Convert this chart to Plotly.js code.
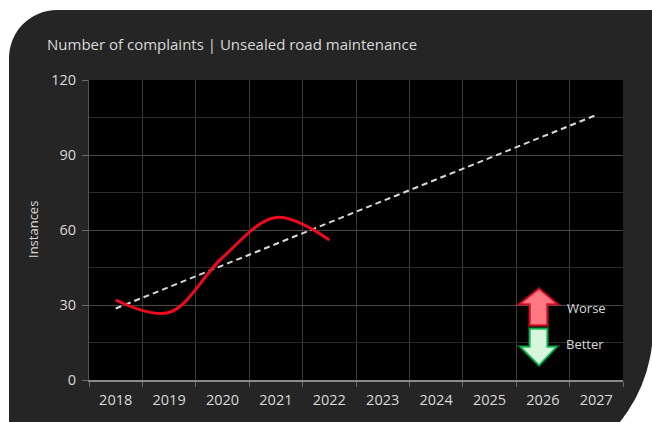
<!DOCTYPE html>
<html>
<head>
<meta charset="utf-8">
<script src="https://cdn.plot.ly/plotly-3.0.1.min.js"></script>
<style>
  html, body { margin: 0; padding: 0; background: #ffffff; overflow: hidden; }
  #wrap { position: relative; width: 652px; height: 422px; overflow: hidden; }
  #card {
    position: absolute; left: 9px; top: 10px; width: 644px; height: 468px;
    background: #252525;
    border-radius: 48px 0 150px 0;
  }
  #chart { position: absolute; left: 0; top: 0; width: 652px; height: 422px; }
</style>
</head>
<body>
<div id="wrap">
  <div id="card"></div>
  <div id="chart"></div>
</div>
<script>
// Recorded complaints per year
const years = [2018, 2019, 2020, 2021, 2022];
const complaints = [32, 27, 49, 65, 56];

// Years shown on the axis (trend is projected across all of them)
const axisYears = [2018, 2019, 2020, 2021, 2022, 2023, 2024, 2025, 2026, 2027];
const axisLabels = axisYears.map(String);

const titleText = 'Number of complaints | Unsealed road maintenance';
const yTitle = 'Instances';
const worseText = 'Worse';
const betterText = 'Better';

// Least-squares linear trend fitted to the recorded values
const n = years.length;
const mx = years.reduce((a, b) => a + b, 0) / n;
const my = complaints.reduce((a, b) => a + b, 0) / n;
let sxy = 0, sxx = 0;
for (let i = 0; i < n; i++) {
  sxy += (years[i] - mx) * (complaints[i] - my);
  sxx += (years[i] - mx) * (years[i] - mx);
}
const slope = sxy / sxx;
const trendX = [axisYears[0], axisYears[axisYears.length - 1]];
const trendY = trendX.map(x => my + slope * (x - mx));

// Plot area geometry (pixels) used to place the indicator arrows
const W = 652, H = 422;
const M = { l: 89, r: 29, t: 80, b: 42 };
const pw = W - M.l - M.r, ph = H - M.t - M.b;
const fx = px => (px - M.l) / pw;
const fy = py => (H - M.b - py) / ph;
const poly = pts => pts.map((p, i) => (i ? 'L' : 'M') + fx(p[0]).toFixed(4) + ',' + fy(p[1]).toFixed(4)).join(' ') + ' Z';

const upArrow = [[539, 289], [557, 304], [547, 304], [547, 325], [530, 325], [530, 304], [520, 304]];
const downArrow = [[530, 329], [547, 329], [547, 347], [556, 347], [539, 365], [521, 347], [530, 347]];

const font = '"Open Sans", Lato, sans-serif';
const textColor = '#d9d9d9';

const traces = [
  {
    x: trendX, y: trendY, type: 'scatter', mode: 'lines',
    line: { color: '#d9d9d9', width: 2, dash: '6px,4px' },
    hoverinfo: 'skip', showlegend: false
  },
  {
    x: years, y: complaints, type: 'scatter', mode: 'lines',
    line: { color: '#ee0a1e', width: 3, shape: 'spline', smoothing: 1 },
    showlegend: false
  }
];

const layout = {
  width: W, height: H,
  margin: M,
  paper_bgcolor: 'rgba(0,0,0,0)',
  plot_bgcolor: '#000000',
  font: { family: font, color: textColor, size: 14 },
  title: {
    text: titleText, xref: 'container', yref: 'container',
    x: 47 / W, xanchor: 'left', y: 1 - 45 / H, yanchor: 'middle',
    font: { family: font, size: 15, color: textColor }
  },
  xaxis: {
    range: [2017.5, 2027.5], tickmode: 'array', tickvals: axisYears, ticktext: axisLabels,
    showgrid: false, zeroline: false, ticks: '',
    showline: true, linecolor: '#8a8a8a', linewidth: 1.5,
    tickfont: { family: font, size: 14.5, color: textColor },
    ticklabelstandoff: 6,
    minor: { tick0: 2017.5, dtick: 1, showgrid: true, gridcolor: '#3a3a3a', gridwidth: 1,
             ticks: 'outside', ticklen: 5, tickcolor: '#6a6a6a' }
  },
  yaxis: {
    range: [0, 120], tick0: 0, dtick: 30,
    showgrid: true, gridcolor: '#484848', gridwidth: 1, zeroline: false,
    showline: true, linecolor: '#555555', linewidth: 1,
    ticks: 'outside', ticklen: 6, tickcolor: '#6a6a6a',
    tickfont: { family: font, size: 14.5, color: textColor },
    ticklabelstandoff: 3,
    minor: { dtick: 15, showgrid: true, gridcolor: '#2c2c2c', gridwidth: 1 }
  },
  shapes: [
    { type: 'path', xref: 'paper', yref: 'paper', path: poly(upArrow),
      fillcolor: 'rgba(0,0,0,0)', line: { color: 'rgba(255,40,60,0.35)', width: 4 } },
    { type: 'path', xref: 'paper', yref: 'paper', path: poly(upArrow),
      fillcolor: '#ff7882', line: { color: '#e8102c', width: 1.5 } },
    { type: 'path', xref: 'paper', yref: 'paper', path: poly(downArrow),
      fillcolor: 'rgba(0,0,0,0)', line: { color: 'rgba(30,210,100,0.35)', width: 4 } },
    { type: 'path', xref: 'paper', yref: 'paper', path: poly(downArrow),
      fillcolor: '#d8f5dd', line: { color: '#1fc35c', width: 1.5 } }
  ],
  annotations: [
    { text: worseText, xref: 'paper', yref: 'paper', x: fx(565), y: fy(308),
      xanchor: 'left', yanchor: 'middle', showarrow: false,
      font: { family: font, size: 13, color: textColor } },
    { text: betterText, xref: 'paper', yref: 'paper', x: fx(564), y: fy(344),
      xanchor: 'left', yanchor: 'middle', showarrow: false,
      font: { family: font, size: 13, color: textColor } },
    { text: yTitle, xref: 'paper', yref: 'paper', x: fx(33), y: fy(230),
      xanchor: 'center', yanchor: 'middle', textangle: -90, showarrow: false,
      font: { family: font, size: 13, color: textColor } }
  ]
};

Plotly.newPlot('chart', traces, layout, { displayModeBar: false, staticPlot: true });
</script>
</body>
</html>
